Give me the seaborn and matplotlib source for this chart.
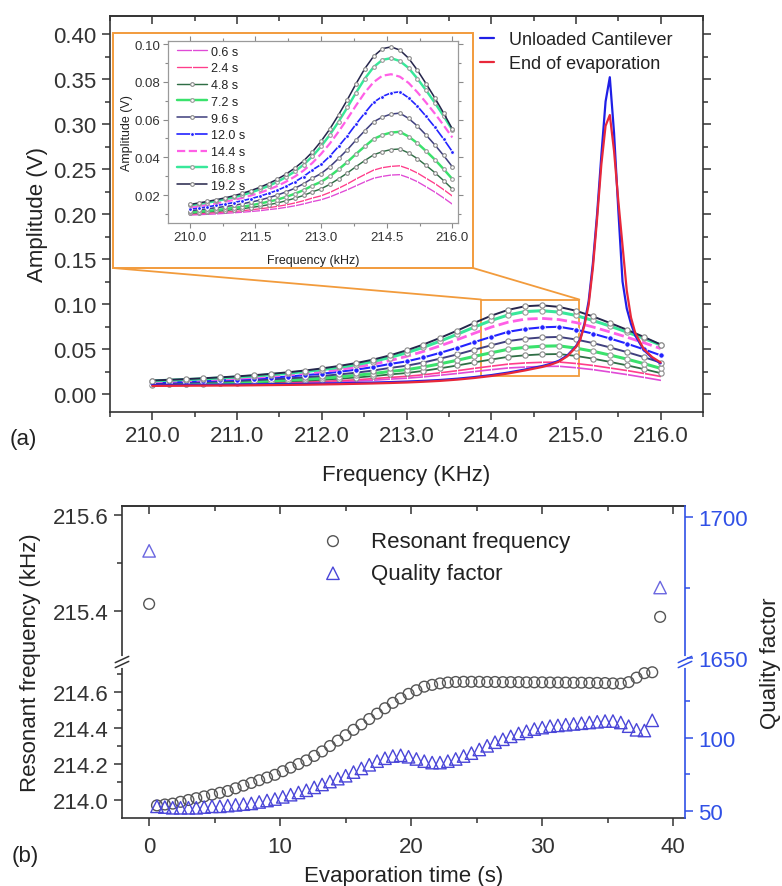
import numpy as np
import seaborn as sns
import matplotlib
matplotlib.use("Agg")
import matplotlib.pyplot as plt
from matplotlib.patches import Rectangle, ConnectionPatch
from matplotlib.ticker import FormatStrFormatter, MultipleLocator, FixedLocator

# ---------------- (a) amplitude spectra ----------------
freq = [210.0, 210.2, 210.4, 210.6, 210.8, 211.0, 211.2, 211.4, 211.6, 211.8,
        212.0, 212.2, 212.4, 212.6, 212.8, 213.0, 213.2, 213.4, 213.6, 213.8,
        214.0, 214.2, 214.4, 214.6, 214.8, 215.0, 215.2, 215.4, 215.6, 215.8, 216.0]

amp_0_6 = [.0094, .0096, .0098, .0100, .0103, .0106, .0109, .0113, .0117, .0123, .0128,
           .0135, .0143, .0153, .0165, .0175, .0190, .0209, .0228, .0249, .0270, .0289,
           .0299, .0306, .0308, .0292, .0271, .0244, .0216, .0185, .0152]
amp_2_4 = [.0099, .0102, .0104, .0107, .0110, .0113, .0117, .0122, .0127, .0133, .0140,
           .0148, .0158, .0170, .0184, .0196, .0214, .0236, .0259, .0285, .0309, .0332,
           .0345, .0352, .0355, .0339, .0317, .0289, .0261, .0229, .0195]
amp_4_8 = [.0104, .0107, .0111, .0114, .0118, .0123, .0128, .0134, .0141, .0149, .0158,
           .0170, .0183, .0198, .0217, .0233, .0257, .0286, .0317, .0351, .0383, .0413,
           .0430, .0441, .0444, .0423, .0393, .0357, .0319, .0277, .0232]
amp_7_2 = [.0108, .0112, .0116, .0121, .0126, .0132, .0138, .0146, .0155, .0165, .0176,
           .0190, .0207, .0226, .0250, .0270, .0300, .0336, .0375, .0418, .0458, .0497,
           .0518, .0531, .0535, .0510, .0475, .0433, .0388, .0338, .0285]
amp_9_6 = [.0117, .0122, .0127, .0133, .0139, .0145, .0154, .0163, .0173, .0186, .0200,
           .0217, .0236, .0260, .0289, .0314, .0350, .0394, .0440, .0492, .0541, .0588,
           .0613, .0629, .0634, .0606, .0566, .0518, .0466, .0410, .0350]
amp_12_0 = [.0126, .0132, .0138, .0145, .0152, .0160, .0170, .0181, .0194, .0209, .0225,
            .0246, .0270, .0298, .0333, .0362, .0406, .0458, .0514, .0576, .0635, .0691,
            .0722, .0741, .0747, .0715, .0671, .0617, .0560, .0497, .0430]
amp_14_4 = [.0135, .0142, .0148, .0156, .0165, .0174, .0185, .0198, .0212, .0229, .0248,
            .0271, .0298, .0330, .0370, .0418, .0473, .0536, .0604, .0675, .0743, .0798,
            .0832, .0840, .0827, .0794, .0745, .0690, .0632, .0570, .0505]
amp_16_8 = [.0145, .0153, .0160, .0168, .0178, .0188, .0200, .0214, .0230, .0249, .0270,
            .0296, .0325, .0361, .0405, .0458, .0519, .0589, .0664, .0743, .0817, .0878,
            .0916, .0925, .0910, .0873, .0817, .0755, .0689, .0619, .0545]
amp_19_2 = [.0150, .0158, .0166, .0175, .0185, .0196, .0209, .0224, .0241, .0261, .0284,
            .0311, .0343, .0381, .0428, .0485, .0550, .0625, .0705, .0790, .0870, .0935,
            .0975, .0985, .0968, .0925, .0862, .0790, .0715, .0635, .0550]

# sharp resonance of the clean cantilever, finer steps near the peak
peak_freq = [210.0, 210.2, 210.4, 210.6, 210.8, 211.0, 211.2, 211.4, 211.6, 211.8,
             212.0, 212.2, 212.4, 212.6, 212.8, 213.0, 213.2, 213.4, 213.6, 213.8,
             214.0, 214.2, 214.4, 214.6, 214.7, 214.8, 214.9, 215.0, 215.05, 215.1,
             215.15, 215.2, 215.25, 215.3, 215.35, 215.4, 215.45, 215.5, 215.55, 215.6,
             215.65, 215.7, 215.8, 215.9, 216.0]
unloaded_amp = [.0100, .0101, .0102, .0103, .0104, .0105, .0107, .0109, .0111, .0113,
                .0116, .0119, .0123, .0127, .0132, .0138, .0146, .0156, .0170, .0188,
                .0210, .0238, .0272, .0310, .0335, .0370, .0430, .0530, .0610, .0780,
                .1030, .1450, .2000, .2650, .3250, .3520, .2900, .2050, .1250, .0950,
                .0780, .0650, .0490, .0400, .0340]
end_amp = [.0090, .0091, .0092, .0093, .0094, .0095, .0097, .0099, .0101, .0103,
           .0106, .0109, .0113, .0117, .0122, .0128, .0136, .0146, .0160, .0178,
           .0200, .0228, .0262, .0300, .0325, .0360, .0420, .0520, .0600, .0760,
           .0990, .1400, .1950, .2550, .2980, .3100, .2700, .2150, .1650, .1150,
           .0850, .0680, .0500, .0410, .0350]

# ---------------- (b) resonance tracking ----------------
evap_time = [0.6, 1.2, 1.8, 2.4, 3.0, 3.6, 4.2, 4.8, 5.4, 6.0, 6.6, 7.2, 7.8, 8.4, 9.0,
             9.6, 10.2, 10.8, 11.4, 12.0, 12.6, 13.2, 13.8, 14.4, 15.0, 15.6, 16.2, 16.8,
             17.4, 18.0, 18.6, 19.2, 19.8, 20.4, 21.0, 21.6, 22.2, 22.8, 23.4, 24.0, 24.6,
             25.2, 25.8, 26.4, 27.0, 27.6, 28.2, 28.8, 29.4, 30.0, 30.6, 31.2, 31.8, 32.4,
             33.0, 33.6, 34.2, 34.8, 35.4, 36.0, 36.6, 37.2, 37.8, 38.4]
res_freq = [213.970, 213.975, 213.980, 213.990, 214.000, 214.010, 214.020, 214.030,
            214.040, 214.050, 214.065, 214.080, 214.095, 214.110, 214.125, 214.140,
            214.160, 214.180, 214.200, 214.220, 214.245, 214.270, 214.300, 214.330,
            214.360, 214.390, 214.420, 214.450, 214.480, 214.510, 214.540, 214.565,
            214.590, 214.610, 214.630, 214.640, 214.648, 214.653, 214.656, 214.657,
            214.657, 214.657, 214.656, 214.656, 214.655, 214.655, 214.655, 214.654,
            214.654, 214.654, 214.653, 214.653, 214.653, 214.652, 214.652, 214.651,
            214.651, 214.650, 214.648, 214.647, 214.655, 214.680, 214.705, 214.710]
quality = [53, 52.5, 52, 52, 52, 52, 52.5, 53, 53, 53.5, 54, 54.5, 55, 56, 57, 58, 59.5,
           61, 62.5, 64, 66, 68, 70, 72, 74, 76.5, 79, 81.5, 84, 86, 87.5, 88, 87, 85.5,
           84, 83, 83, 84, 85.5, 87.5, 89.5, 92, 94.5, 97, 99, 101, 103, 104.5, 106, 107,
           108, 108.5, 109, 109.5, 110, 110.5, 111, 111.5, 111.5, 110.5, 108, 105.5, 105, 112]

# unloaded cantilever and end of evaporation
ref_time = [0.0, 39.0]
ref_freq = [215.415, 215.388]
ref_quality = [1688, 1675]

W, H = 782, 887
ORANGE = "#f29b3c"
QBLUE = "#3050e6"


def box(left, top, right, bottom):
    return [left / W, 1 - bottom / H, (right - left) / W, (bottom - top) / H]


def broken(lo, gap_lo, gap_hi, hi):
    pts = [lo, gap_lo, gap_hi, hi]
    uv = [0.0, 0.5, 0.50001, 1.0]
    return (lambda v: np.interp(v, pts, uv), lambda u: np.interp(u, uv, pts))


def main():
    sns.set_theme(style="ticks")
    plt.rcParams["font.family"] = ["Liberation Sans", "DejaVu Sans"]
    plt.rcParams["axes.edgecolor"] = "#333333"
    plt.rcParams["axes.linewidth"] = 1.2
    plt.rcParams["text.color"] = "#222222"
    plt.rcParams["axes.labelcolor"] = "#222222"
    plt.rcParams["xtick.color"] = "#333333"
    plt.rcParams["ytick.color"] = "#333333"

    fig = plt.figure(figsize=(W / 100, H / 100), dpi=100)

    spectra = [
        ("0.6 s", amp_0_6, dict(color="#e04ad6", lw=1.2, marker="|", ms=4.5)),
        ("2.4 s", amp_2_4, dict(color="#ff3d8b", lw=1.2, marker="|", ms=4.5)),
        ("4.8 s", amp_4_8, dict(color="#2f6e45", lw=1.3, marker="o", ms=3.8,
                                mfc="white", mec="#8a8a8a", mew=0.8)),
        ("7.2 s", amp_7_2, dict(color="#3ae26c", lw=2.2, marker="o", ms=3.8,
                                mfc="white", mec="#9a9a9a", mew=0.8)),
        ("9.6 s", amp_9_6, dict(color="#40407e", lw=1.4, marker="o", ms=3.8,
                                mfc="white", mec="#8a8a8a", mew=0.8)),
        ("12.0 s", amp_12_0, dict(color="#2323ff", lw=1.5, marker="o", ms=4)),
        ("14.4 s", amp_14_4, dict(color="#ff5fe6", lw=2.0, ls="--")),
        ("16.8 s", amp_16_8, dict(color="#38e89a", lw=2.2, marker="o", ms=3.8,
                                  mfc="white", mec="#9a9a9a", mew=0.8)),
        ("19.2 s", amp_19_2, dict(color="#26264c", lw=1.4, marker="o", ms=3.8,
                                  mfc="white", mec="#8a8a8a", mew=0.8)),
    ]

    # ---------------- panel (a) ----------------
    ax = fig.add_axes(box(110, 17, 703, 413))
    for lab, amps, st in spectra:
        sns.lineplot(x=freq, y=amps, ax=ax, legend=False, zorder=3, **st)
    sns.lineplot(x=peak_freq, y=unloaded_amp, ax=ax, color="#1f1fe6", lw=1.6,
                 label="Unloaded Cantilever", legend=False, zorder=4)
    sns.lineplot(x=peak_freq, y=end_amp, ax=ax, color="#e8283a", lw=1.6,
                 label="End of evaporation", legend=False, zorder=5)

    ax.add_patch(Rectangle((213.88, 0.02), 1.16, 0.085, fill=False,
                           ec=ORANGE, lw=1.3, zorder=2.5))

    ax.set_xlim(209.5, 216.5)
    ax.set_ylim(-0.02, 0.42)
    ax.xaxis.set_major_locator(MultipleLocator(1.0))
    ax.xaxis.set_minor_locator(MultipleLocator(0.5))
    ax.yaxis.set_major_locator(MultipleLocator(0.05))
    ax.yaxis.set_minor_locator(MultipleLocator(0.025))
    ax.xaxis.set_major_formatter(FormatStrFormatter("%.1f"))
    ax.yaxis.set_major_formatter(FormatStrFormatter("%.2f"))
    ax.tick_params(which="both", direction="out", right=True, labelsize=16, width=1.1)
    ax.tick_params(which="major", length=6)
    ax.tick_params(which="minor", length=3.5)
    top = ax.secondary_xaxis("top")
    top.xaxis.set_major_locator(MultipleLocator(1.0))
    top.xaxis.set_minor_locator(MultipleLocator(0.5))
    top.tick_params(axis="x", which="both", direction="in", labeltop=False, width=1.1)
    top.tick_params(which="major", length=6)
    top.tick_params(which="minor", length=3.5)
    ax.set_xlabel("Frequency (KHz)", fontsize=16, labelpad=13)
    ax.set_ylabel("Amplitude (V)", fontsize=16)
    ax.legend(loc="upper left", bbox_to_anchor=(0.624, 0.962), frameon=False,
              fontsize=13, handlelength=0.8, handletextpad=0.8, borderpad=0,
              borderaxespad=0, labelspacing=0.4)

    # orange frame around the inset and the zoom lines
    fig.add_artist(Rectangle((113 / W, 1 - 269 / H), 360 / W, 235 / H,
                             transform=fig.transFigure, facecolor="white",
                             edgecolor=ORANGE, lw=1.4, zorder=2))
    for fx, fxd in [(113, 213.88), (473, 215.04)]:
        fig.add_artist(ConnectionPatch(xyA=(fx / W, 1 - 269 / H), coordsA=fig.transFigure,
                                       xyB=(fxd, 0.105), coordsB=ax.transData,
                                       color=ORANGE, lw=1.3, zorder=1.5))

    # inset
    axin = fig.add_axes(box(168, 42, 458, 224))
    axin.set_zorder(3)
    for lab, amps, st in spectra:
        st_in = dict(st)
        st_in["lw"] = st["lw"] * 0.8
        if "ms" in st_in:
            st_in["ms"] = st["ms"] * 0.7
        sns.lineplot(x=freq, y=amps, ax=axin, label=lab, legend=False, **st_in)
    axin.set_xlim(209.5, 216.13)
    axin.set_ylim(0.0052, 0.1016)
    axin.set_xticks([210.0, 211.5, 213.0, 214.5, 216.0])
    axin.xaxis.set_minor_locator(MultipleLocator(0.75))
    axin.yaxis.set_major_locator(MultipleLocator(0.02))
    axin.yaxis.set_minor_locator(MultipleLocator(0.01))
    axin.xaxis.set_major_formatter(FormatStrFormatter("%.1f"))
    axin.yaxis.set_major_formatter(FormatStrFormatter("%.2f"))
    for sp in axin.spines.values():
        sp.set_color("#9a9a9a")
        sp.set_linewidth(0.9)
    axin.tick_params(which="both", direction="out", top=True, right=True,
                     labelsize=9.5, color="#8a8a8a", width=0.8, pad=2)
    axin.tick_params(which="major", length=3.5)
    axin.tick_params(which="minor", length=2)
    axin.set_xlabel("Frequency (kHz)", fontsize=9, labelpad=8)
    axin.set_ylabel("Amplitude (V)", fontsize=9, labelpad=1)
    axin.legend(loc="upper left", bbox_to_anchor=(0.03, 0.975), frameon=False,
                fontsize=9, handlelength=2.4, handletextpad=0.35, borderpad=0,
                borderaxespad=0, labelspacing=0.38)

    fig.text(23 / W, 1 - 440 / H, "(a)", fontsize=16, ha="center", va="center")

    # ---------------- panel (b) ----------------
    ax2 = fig.add_axes(box(122, 507, 685, 819))
    ax2r = ax2.twinx()

    ax2.set_yscale("function", functions=broken(213.9, 214.767, 215.294, 215.619))
    ax2r.set_yscale("function", functions=broken(45.0, 152.0, 1648.6, 1703.9))

    sns.scatterplot(x=evap_time, y=res_freq, ax=ax2, marker="o", s=60,
                    facecolor="none", edgecolor="#555555", linewidth=1.0,
                    label="Resonant frequency", legend=False, zorder=3)
    sns.scatterplot(x=ref_time, y=ref_freq, ax=ax2, marker="o", s=60,
                    facecolor="none", edgecolor="#555555", linewidth=1.0,
                    legend=False, zorder=3)
    sns.scatterplot(x=evap_time, y=quality, ax=ax2r, marker="^", s=80,
                    facecolor="none", edgecolor="#4a46d8", linewidth=1.0,
                    label="Quality factor", legend=False, zorder=3)
    sns.scatterplot(x=ref_time, y=ref_quality, ax=ax2r, marker="^", s=80,
                    facecolor="none", edgecolor="#6a66e0", linewidth=1.0,
                    legend=False, zorder=3)

    ax2.set_xlim(-2.07, 40.9)
    ax2.set_ylim(213.9, 215.619)
    ax2r.set_ylim(45.0, 1703.9)
    ax2.xaxis.set_major_locator(MultipleLocator(10))
    ax2.xaxis.set_minor_locator(MultipleLocator(5))
    ax2.yaxis.set_major_locator(FixedLocator([214.0, 214.2, 214.4, 214.6, 215.4, 215.6]))
    ax2.yaxis.set_minor_locator(FixedLocator([214.1, 214.3, 214.5, 214.7, 215.5]))
    ax2.yaxis.set_major_formatter(FormatStrFormatter("%.1f"))
    ax2r.yaxis.set_major_locator(FixedLocator([50, 100, 1650, 1700]))
    ax2r.yaxis.set_minor_locator(FixedLocator([75, 125, 1675]))
    ax2r.yaxis.set_major_formatter(FormatStrFormatter("%d"))

    ax2.spines["right"].set_visible(False)
    for side in ["left", "top", "bottom"]:
        ax2r.spines[side].set_visible(False)
    ax2r.spines["right"].set_color(QBLUE)
    ax2r.spines["right"].set_linewidth(1.2)

    ax2.tick_params(which="both", direction="out", labelsize=16, width=1.1)
    ax2.tick_params(axis="x", which="both", pad=7)
    ax2.tick_params(which="major", length=6)
    ax2.tick_params(which="minor", length=3.5)
    ax2r.tick_params(which="both", direction="out", labelsize=16, width=1.1,
                     color=QBLUE, labelcolor=QBLUE)
    ax2r.tick_params(which="major", length=6)
    ax2r.tick_params(which="minor", length=3.5)
    top2 = ax2.secondary_xaxis("top")
    top2.xaxis.set_major_locator(MultipleLocator(10))
    top2.xaxis.set_minor_locator(MultipleLocator(5))
    top2.tick_params(axis="x", which="both", direction="in", labeltop=False, width=1.1)
    top2.tick_params(which="major", length=6)
    top2.tick_params(which="minor", length=3.5)

    ax2.set_xlabel("Evaporation time (s)", fontsize=16, labelpad=6)
    ax2.set_ylabel("Resonant frequency (kHz)", fontsize=16, labelpad=9)
    ax2r.set_ylabel("Quality factor", fontsize=16, labelpad=9)

    # axis break marks
    for xs, col in [(0.0, "#333333"), (1.0, QBLUE)]:
        ax2r.plot([xs, xs], [0.488, 0.512], transform=ax2r.transAxes, color="white",
                  lw=3, clip_on=False, zorder=6)
        for dy in [-0.008, 0.008]:
            ax2r.plot([xs - 0.012, xs + 0.012], [0.49 + dy, 0.51 + dy],
                      transform=ax2r.transAxes, color=col, lw=1.1,
                      clip_on=False, zorder=7)

    h1, l1 = ax2.get_legend_handles_labels()
    h2, l2 = ax2r.get_legend_handles_labels()
    ax2r.legend(h1 + h2, l1 + l2, loc="upper left", bbox_to_anchor=(0.351, 0.92),
                frameon=False, fontsize=16, handlelength=1.2, handletextpad=1.1,
                borderpad=0, borderaxespad=0, labelspacing=0.5)

    fig.text(25 / W, 1 - 857 / H, "(b)", fontsize=16, ha="center", va="center")

    fig.savefig("out.png", dpi=100)


if __name__ == "__main__":
    main()
